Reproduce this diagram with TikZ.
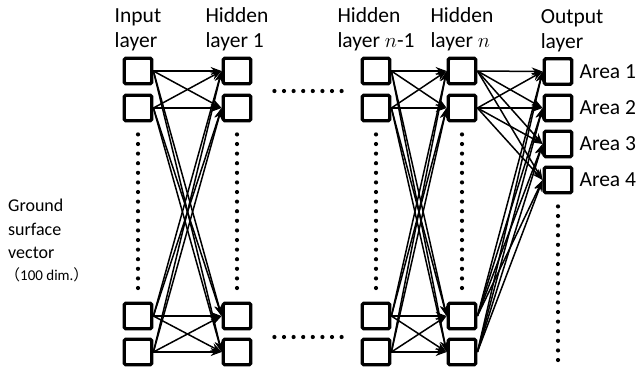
\documentclass[tikz,border=0pt]{standalone}
\usepackage{fontspec}
\setmainfont{Carlito}
\newfontfamily\cjkfont{Noto Sans CJK JP}
\usetikzlibrary{arrows.meta,positioning,backgrounds}

\begin{document}
\begin{tikzpicture}[
  x=1pt, y=-1pt,
  font=\fontsize{21.5}{25}\selectfont,
  unit/.style={
    draw, fill=white, line width=3.3pt, rounded corners=1.5pt,
    minimum width=27.5pt, minimum height=25.5pt, inner sep=0pt
  },
  lbl/.style={align=left, inner sep=0pt},
  area/.style={inner sep=0pt, anchor=west},
  link/.style={-{Stealth[length=11pt,width=8pt]}, line width=1.5pt},
  dots/.style={line width=4.2pt, line cap=round,
               dash pattern=on 0pt off 9.6pt},
]
\useasboundingbox (0,0) rectangle (639,373);

% ---- hidden and input columns -------------------------------------------
\foreach \col/\x in {in/138, ha/237, hb/376, hc/462}
  \foreach \i/\y in {1/71, 2/108, 3/316, 4/352}
    \node[unit] (\col\i) at (\x,\y) {};

% ---- output column ------------------------------------------------------
\foreach \i/\y in {1/71.5, 2/108, 3/144, 4/180} {
  \node[unit] (out\i) at (558,\y) {};
  \node[area, right=6pt of out\i] {Area \i};
}
\coordinate (outend) at (558,369);

% ---- column heads -------------------------------------------------------
\node[lbl, above=5pt of in1]  {Input\\layer};
\node[lbl, above=5pt of ha1]  {Hidden\\layer 1};
\node[lbl, above=5pt of hb1]  {Hidden\\layer $n$-1};
\node[lbl, above=5pt of hc1]  {Hidden\\layer $n$};
\node[lbl, anchor=south west] at ([xshift=-2pt,yshift=5pt]out1.north west)
  {Output\\layer};

\node[lbl, anchor=north west, font=\fontsize{18}{23.5}\selectfont] (gsv) at (8,199)
  {Ground\\ surface\\ vector\\[-2pt]
   \fontsize{15}{18}\selectfont\hspace*{-3pt}{\cjkfont （}100 dim.{\cjkfont ）}};

% ---- connections --------------------------------------------------------
\begin{scope}[on background layer]
  \foreach \a/\b in {in/ha, hb/hc, hc/out}
    \foreach \i in {1,...,4}
      \foreach \j in {1,...,4}
        \draw[link] (\a\i.east) -- (\b\j.west);

  % skipped units
  \foreach \col in {in, ha, hb, hc}
    \draw[dots] ([yshift=-12pt]\col2.south) -- ([yshift=8pt]\col3.north);
  \draw[dots] ([yshift=-12pt]out4.south) -- (outend);

  % skipped layers
  \draw[dots] ([xshift=22pt,yshift=-20pt]ha1.east) -- ([xshift=-19pt,yshift=-20pt]hb1.west);
  \draw[dots] ([xshift=22pt,yshift=-21pt]ha3.east) -- ([xshift=-19pt,yshift=-21pt]hb3.west);
\end{scope}

\end{tikzpicture}
\end{document}
